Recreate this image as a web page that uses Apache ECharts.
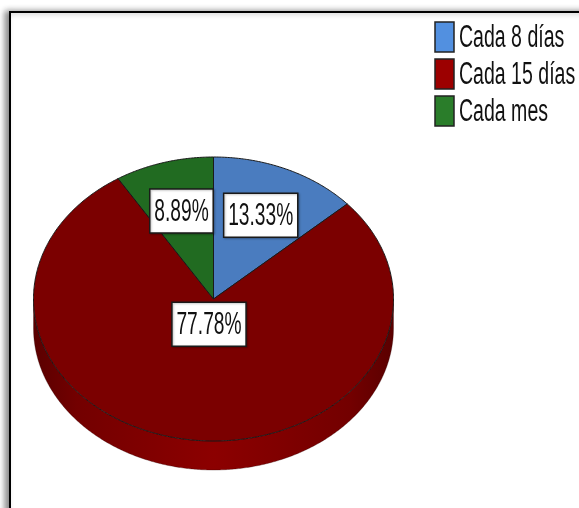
<!DOCTYPE html>
<html>
<head>
<meta charset="utf-8">
<script src="https://cdn.jsdelivr.net/npm/echarts@6/dist/echarts.min.js"></script>
<style>
  html, body { margin: 0; padding: 0; background: #fff; }
  #chart { width: 579px; height: 508px; }
</style>
</head>
<body>
<div id="chart"></div>
<script>
// Frequency categories and their shares (percent)
const categories = ['Cada 8 días', 'Cada 15 días', 'Cada mes'];
const percents = [13.33, 77.78, 8.89];

// Slice colours: top face, side band, legend swatch
const faceColors = ['#4a7cbf', '#7b0000', '#216b21'];
const sideColors = ['#2f5a92', '#8c0000', '#134d13'];
const legendColors = ['#5290e0', '#9c0000', '#2a7d2a'];

// Ellipse geometry of the tilted pie
const PIE = { cx: 213.5, cy: 299, rx: 180, ry: 142, depth: 29 };
// Radial position of each label as a fraction of the radius
const labelRadius = [0.645, 0.18, 0.645];

const FONT = '"Liberation Sans", Arial, sans-serif';
const NARROW = 0.6;

const measureCtx = document.createElement('canvas').getContext('2d');
function textWidth(str, size) {
  measureCtx.font = size + 'px ' + FONT;
  return measureCtx.measureText(str).width;
}

const total = percents.reduce((a, b) => a + b, 0);
const starts = [];
let acc = 0;
percents.forEach(v => { starts.push(acc); acc += v; });

// angle t measured clockwise from 12 o'clock
function pt(t, dy) {
  return [PIE.cx + PIE.rx * Math.sin(t), PIE.cy + (dy || 0) - PIE.ry * Math.cos(t)];
}
function arc(t1, t2, dy) {
  const pts = [];
  const n = Math.max(2, Math.ceil((t2 - t1) / (Math.PI / 360)));
  for (let k = 0; k <= n; k++) pts.push(pt(t1 + (t2 - t1) * k / n, dy));
  return pts;
}

function renderItem(params, api) {
  const i = params.dataIndex;
  const v = api.value(0);
  const t1 = starts[i] / total * Math.PI * 2;
  const t2 = t1 + v / total * Math.PI * 2;
  const children = [];

  // side band: only the front-facing part of the rim (lower half)
  const a = Math.max(t1, Math.PI / 2), b = Math.min(t2, Math.PI * 1.5);
  if (b > a) {
    const top = arc(a, b, 0);
    const bottom = arc(a, b, PIE.depth).reverse();
    children.push({
      type: 'polygon',
      z2: 1,
      shape: { points: top.concat(bottom) },
      style: {
        fill: new echarts.graphic.LinearGradient(PIE.cx - PIE.rx, 0, PIE.cx + PIE.rx, 0, [
          { offset: 0, color: '#5a0000' },
          { offset: 0.12, color: '#730000' },
          { offset: 0.5, color: sideColors[i] },
          { offset: 0.88, color: '#730000' },
          { offset: 1, color: '#5a0000' }
        ], true),
        stroke: 'rgba(40,0,0,0.5)',
        lineWidth: 0.6
      }
    });
  }

  // top face
  children.push({
    type: 'polygon',
    z2: 10,
    shape: { points: [[PIE.cx, PIE.cy]].concat(arc(t1, t2, 0)) },
    style: { fill: faceColors[i], stroke: '#1a1a1a', lineWidth: 1, lineJoin: 'round' }
  });

  // value label in a white box
  const tm = (t1 + t2) / 2;
  const f = labelRadius[i];
  const lx = PIE.cx + f * PIE.rx * Math.sin(tm);
  const ly = PIE.cy - f * PIE.ry * Math.cos(tm);
  const txt = v.toFixed(2) + '%';
  const fs = 32;
  const w = textWidth(txt, fs) * NARROW + 9;
  const h = 44;
  children.push({
    type: 'rect',
    z2: 20,
    shape: { x: lx - w / 2, y: ly - h / 2, width: w, height: h },
    style: { fill: '#fff', stroke: '#1a1a1a', lineWidth: 1.5,
      shadowColor: 'rgba(0,0,0,0.25)', shadowBlur: 2, shadowOffsetX: 1, shadowOffsetY: 1 }
  });
  children.push({
    type: 'text',
    z2: 21,
    x: lx, y: ly + 1,
    scaleX: NARROW,
    style: { text: txt, fontSize: fs, fontFamily: FONT, fill: '#111',
      align: 'center', verticalAlign: 'middle' }
  });

  return { type: 'group', children: children };
}

// legend entries
const legendItems = [];
categories.forEach((name, i) => {
  const cy = 37 + i * 37;
  legendItems.push({
    type: 'rect', z: 5,
    shape: { x: 435, y: cy - 15, width: 19, height: 30 },
    style: { fill: legendColors[i], stroke: '#222', lineWidth: 1.5 }
  });
  legendItems.push({
    type: 'text', z: 5,
    x: 459, y: cy + 1,
    scaleX: 0.63,
    style: { text: name, fontSize: 31, fontFamily: FONT, fill: '#111',
      align: 'left', verticalAlign: 'middle' }
  });
});

const chart = echarts.init(document.getElementById('chart'), null, { renderer: 'canvas' });
chart.setOption({
  animation: false,
  backgroundColor: '#fff',
  graphic: [
    {
      type: 'rect', z: -5,
      shape: { x: 10, y: 12, width: 620, height: 540 },
      style: { fill: '#fff', stroke: '#000', lineWidth: 2,
        shadowColor: 'rgba(0,0,0,0.45)', shadowBlur: 6, shadowOffsetX: -4, shadowOffsetY: 0 }
    }
  ].concat(legendItems),
  series: [{
    type: 'custom',
    coordinateSystem: 'none',
    z: 2,
    data: percents.map(v => [v]),
    renderItem: renderItem
  }]
});
</script>
</body>
</html>
